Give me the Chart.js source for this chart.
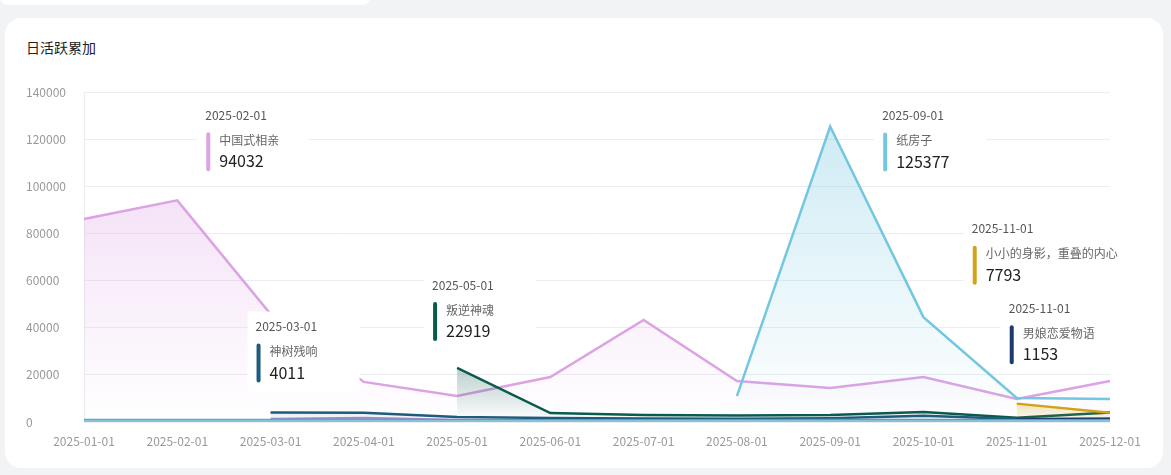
<!DOCTYPE html>
<html>
<head>
<meta charset="utf-8">
<script src="https://cdn.jsdelivr.net/npm/chart.js@4"></script>
<style>
    html, body { margin: 0; padding: 0; }
    body { width: 1171px; height: 475px; background: #f2f3f5; position: relative; overflow: hidden; font-family: "Noto Sans CJK SC", "Noto Sans", sans-serif; }
    .top-card { position: absolute; left: 0; top: -20px; width: 370px; height: 25px; background: #fff; border-radius: 8px; }
    .card { position: absolute; left: 5px; top: 18px; width: 1158px; height: 450px; background: #fff; border-radius: 16px; }
    .title { position: absolute; left: 26px; top: 37px; font-size: 14px; color: #222; }
    #chart-box { position: absolute; left: 0; top: 0; width: 1171px; height: 475px; }
</style>
</head>
<body>
<div class="top-card"></div>
<div class="card"></div>
<div class="title">日活跃累加</div>
<div id="chart-box"><canvas id="dau-chart" width="1171" height="475"></canvas></div>

<script>
// months on the x axis
const months = ["2025-01-01", "2025-02-01", "2025-03-01", "2025-04-01", "2025-05-01", "2025-06-01",
    "2025-07-01", "2025-08-01", "2025-09-01", "2025-10-01", "2025-11-01", "2025-12-01"];

// one array per series (null = not released yet)
const xiangqin = [86100, 94032, 45800, 17000, 11000, 19100, 43300, 17400, 14400, 19100, 9800, 17400]; // 中国式相亲
const zhifangzi = [null, null, null, null, null, null, null, 11000, 125377, 44500, 10200, 9800];      // 纸房子
const panni = [null, null, null, null, 22919, 3800, 3000, 2800, 3000, 4200, 1800, 4000];              // 叛逆神魂
const shenshu = [null, null, 4011, 3950, 2100, 1700, 1500, 1400, 1600, 2600, 1300, 1500];             // 神树残响
const xiaoxiao = [null, null, null, null, null, null, null, null, null, null, 7793, 3900];             // 小小的身影，重叠的内心
const nanniang = [null, null, null, null, null, null, null, null, null, null, 1153, 1100];             // 男娘恋爱物语
const lowPurple = [null, null, 1300, 1700, 900, 600, 500, 500, 500, 600, 500, 500];
const lowSteel = [900, 900, 800, 800, 700, 700, 700, 700, 800, 800, 700, 700];
const lowLight = [400, 400, 400, 400, 300, 300, 300, 300, 300, 300, 300, 300];

// y axis ticks
const yMax = 140000;
const yStep = 20000;

const FONT = '"Noto Sans CJK SC", "Noto Sans", sans-serif';

function hexToRgba(hex, a) {
    const n = parseInt(hex.slice(1), 16);
    return "rgba(" + ((n >> 16) & 255) + "," + ((n >> 8) & 255) + "," + (n & 255) + "," + a + ")";
}

// vertical gradient under a line, from its highest point down to the x axis
function areaFill(color, alphaTop) {
    return function (ctx) {
        const chart = ctx.chart;
        const area = chart.chartArea;
        if (!area) return hexToRgba(color, 0);
        const ds = chart.data.datasets[ctx.datasetIndex];
        const vals = ds.data.filter(v => v !== null);
        const top = chart.scales.y.getPixelForValue(Math.max(...vals));
        const g = chart.ctx.createLinearGradient(0, top, 0, area.bottom);
        g.addColorStop(0, hexToRgba(color, alphaTop));
        g.addColorStop(1, hexToRgba(color, 0));
        return g;
    };
}

function series(name, values, color, alpha, offset) {
    return {
        label: name,
        data: values,
        borderColor: color,
        backgroundColor: areaFill(color, alpha),
        fill: "origin",
        borderWidth: 2.5,
        pointRadius: 0,
        pointHoverRadius: 0,
        tension: 0,
        spanGaps: false,
        peakOffset: offset
    };
}

// draws the white label box above each series' peak
const peakLabels = {
    id: "peakLabels",
    afterDatasetsDraw(chart) {
        const c = chart.ctx;
        chart.data.datasets.forEach((ds, i) => {
            const off = ds.peakOffset;
            if (!off) return;
            let best = -1;
            ds.data.forEach((v, k) => {
                if (v !== null && (best < 0 || v > ds.data[best])) best = k;
            });
            const pt = chart.getDatasetMeta(i).data[best];
            const tx = pt.x + off[0];
            const ty = pt.y + off[1];
            const date = chart.data.labels[best];
            const value = String(ds.data[best]);

            c.save();
            c.font = "12px " + FONT;
            const w1 = c.measureText(date).width;
            const w2 = c.measureText(ds.label).width + 14;
            c.font = "16px " + FONT;
            const w3 = c.measureText(value).width + 14;
            const boxW = Math.max(112, Math.max(w1, w2, w3) + 20);

            c.fillStyle = "#ffffff";
            c.fillRect(tx - 8, ty - 15, boxW, 80);

            c.textBaseline = "middle";
            c.textAlign = "left";
            c.font = "12px " + FONT;
            c.fillStyle = "#555";
            c.fillText(date, tx, ty);

            c.fillStyle = ds.borderColor;
            c.beginPath();
            c.roundRect(tx + 1, ty + 17, 4, 39, 2);
            c.fill();

            c.fillStyle = "#666";
            c.fillText(ds.label, tx + 14, ty + 25);
            c.font = "16px " + FONT;
            c.fillStyle = "#222";
            c.fillText(value, tx + 14, ty + 46);
            c.restore();
        });
    }
};

const canvas = document.getElementById("dau-chart");

let dauChart = new Chart(canvas, {
    type: "line",
    data: {
        labels: months,
        datasets: [
            series("低位A", lowLight, "#86c3d8", 0.15, null),
            series("低位B", lowSteel, "#5d9cbd", 0.15, null),
            series("低位C", lowPurple, "#9c8cc8", 0.1, null),
            series("男娘恋爱物语", nanniang, "#1d3b6e", 0.15, [-8, -111]),
            series("神树残响", shenshu, "#1f5b7d", 0.1, [-15, -86]),
            series("小小的身影，重叠的内心", xiaoxiao, "#d2a316", 0.3, [-45, -175]),
            series("叛逆神魂", panni, "#0b5a4e", 0.28, [-25, -83]),
            series("纸房子", zhifangzi, "#74c7e1", 0.35, [52, -11]),
            series("中国式相亲", xiangqin, "#dca2e3", 0.3, [28, -85])
        ]
    },
    options: {
        responsive: false,
        animation: false,
        events: [],
        layout: {
            padding: { left: 26, right: 61, top: 92, bottom: 23 }
        },
        plugins: {
            legend: { display: false },
            tooltip: { enabled: false }
        },
        scales: {
            x: {
                grid: { display: false, drawTicks: false },
                border: { display: false },
                ticks: {
                    color: "#999",
                    font: { size: 12, family: FONT },
                    padding: 12,
                    maxRotation: 0,
                    autoSkip: false
                },
                afterFit(scale) { scale.height = 30; }
            },
            y: {
                min: 0,
                max: yMax,
                ticks: {
                    stepSize: yStep,
                    color: "#999",
                    font: { size: 12, family: FONT },
                    crossAlign: "far",
                    padding: 6,
                    callback: value => String(value) // no thousands separator
                },
                grid: { color: "#ebedf0", drawTicks: false },
                border: { display: true, color: "#ebedf0" },
                afterFit(scale) { scale.width = 58; }
            }
        }
    },
    plugins: [peakLabels]
});
</script>
</body>
</html>
